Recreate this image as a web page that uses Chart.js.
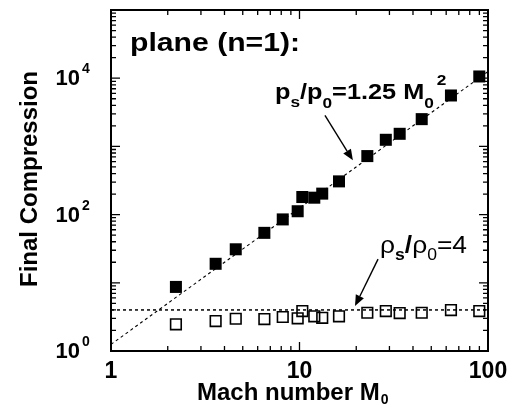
<!DOCTYPE html>
<html>
<head>
<meta charset="utf-8">
<script src="https://cdn.jsdelivr.net/npm/chart.js@4"></script>
<style>
  html, body { margin: 0; padding: 0; background: #fff; }
  canvas { display: block; }
</style>
</head>
<body>
<canvas id="c" width="514" height="412"></canvas>
<script>
// Simulated runs: upstream Mach number and final compression
const machNumbers   = [2.21, 3.59, 4.59, 6.51, 8.15, 9.78, 10.35, 11.98, 13.2, 16.2, 22.9, 28.7, 34.0, 44.5, 63.6, 89.9];
const pressureRatio = [8.7, 19, 31, 54, 85, 112, 181, 177, 203, 307, 721, 1250, 1530, 2510, 5580, 10600];
const densityRatio  = [2.46, 2.75, 2.97, 2.94, 3.15, 3.01, 3.85, 3.22, 3.07, 3.22, 3.64, 3.85, 3.60, 3.64, 3.98, 3.85];

// Reference curves: p_s/p_0 = 1.25 M0^2 and rho_s/rho_0 = 4 (end points)
const fitMach          = [1, 100];
const fitPressure      = [1.25, 12500];
const limitMach        = [1, 100];
const limitDensity     = [4, 4];

// Tick labels
const xTickValues    = [1, 10, 100];
const yTickExponents = [0, 2, 4];

// Annotation arrows in data coordinates: [fromX, fromY, toX, toY]
const pressureArrow = [13.65, 2844, 19.2, 624];
const densityArrow  = [26.1, 22.2, 19.7, 4.56];

const FONT = '"Liberation Sans", Arial, Helvetica, sans-serif';

const toPoints = (xs, ys) => xs.map((v, i) => ({ x: v, y: ys[i] }));

// Draws a sequence of [text, size, weight, dy] segments, stretched by sx
function richText(ctx, x, y, segments, sx, gap) {
  let cx = x;
  for (const [s, size, weight, dy, pre] of segments) {
    cx += (pre || 0);
    ctx.save();
    ctx.font = `${weight} ${size}px ${FONT}`;
    ctx.translate(cx, y + dy);
    ctx.scale(sx, 1);
    ctx.fillText(s, 0, 0);
    cx += ctx.measureText(s).width * sx + (gap || 0);
    ctx.restore();
  }
  return cx;
}

function arrow(ctx, x0, y0, x1, y1) {
  const ang = Math.atan2(y1 - y0, x1 - x0);
  const head = 11, half = 4.5;
  const bx = x1 - head * Math.cos(ang), by = y1 - head * Math.sin(ang);
  ctx.beginPath();
  ctx.moveTo(x0, y0);
  ctx.lineTo(bx, by);
  ctx.lineWidth = 1.4;
  ctx.stroke();
  ctx.beginPath();
  ctx.moveTo(x1, y1);
  ctx.lineTo(bx + half * Math.sin(ang), by - half * Math.cos(ang));
  ctx.lineTo(bx - half * Math.sin(ang), by + half * Math.cos(ang));
  ctx.closePath();
  ctx.fill();
}

const framePlugin = {
  id: 'frame',
  afterDraw(chart) {
    const { ctx, chartArea: a, scales: { x, y } } = chart;
    ctx.save();
    ctx.strokeStyle = '#000';
    ctx.fillStyle = '#000';

    // Log ticks on all four sides, pointing inward
    ctx.lineWidth = 1.3;
    ctx.beginPath();
    for (let d = 0; d <= 2; d++) {
      for (let k = 1; k <= 9; k++) {
        const v = k * Math.pow(10, d);
        if (v > 100) break;
        const px = x.getPixelForValue(v);
        const len = k === 1 ? 9 : 5;
        ctx.moveTo(px, a.bottom); ctx.lineTo(px, a.bottom - len);
        ctx.moveTo(px, a.top);    ctx.lineTo(px, a.top + len);
      }
    }
    for (let d = 0; d <= 5; d++) {
      for (let k = 1; k <= 9; k++) {
        const v = k * Math.pow(10, d);
        if (v > 1e5) break;
        const py = y.getPixelForValue(v);
        const len = k === 1 ? 9 : 5;
        ctx.moveTo(a.left, py);  ctx.lineTo(a.left + len, py);
        ctx.moveTo(a.right, py); ctx.lineTo(a.right - len, py);
      }
    }
    ctx.stroke();

    // Frame
    ctx.lineWidth = 2;
    ctx.strokeRect(a.left, a.top, a.right - a.left, a.bottom - a.top);

    // X tick labels
    ctx.font = `bold 23px ${FONT}`;
    ctx.textAlign = 'center';
    ctx.textBaseline = 'alphabetic';
    for (const v of xTickValues) {
      ctx.fillText(String(v), x.getPixelForValue(v), a.bottom + 27);
    }

    // Y tick labels 10^n
    for (const e of yTickExponents) {
      const py = y.getPixelForValue(Math.pow(10, e));
      ctx.font = `bold 22px ${FONT}`;
      ctx.textAlign = 'right';
      ctx.fillText('10', 80, py + 7);
      ctx.font = `bold 14px ${FONT}`;
      ctx.textAlign = 'left';
      ctx.fillText(String(e), 82, py - 5);
    }

    // Axis titles
    ctx.textAlign = 'left';
    const endX = richText(ctx, 197, 400, [['Mach number M', 24, 'bold', 0]], 1.0);
    richText(ctx, endX + 1, 400, [['0', 14, 'bold', 4]], 1.0);

    ctx.save();
    ctx.translate(37, 179);
    ctx.rotate(-Math.PI / 2);
    ctx.font = `bold 24px ${FONT}`;
    ctx.textAlign = 'center';
    ctx.fillText('Final Compression', 0, 0);
    ctx.restore();

    // In-plot labels
    richText(ctx, 130, 51, [['plane (n=1):', 26, 'bold', 0]], 1.16);

    const fEnd = richText(ctx, 275, 98.5, [
      ['p', 22, 'bold', 0],
      ['s', 15, 'bold', 8.5],
      ['/', 22, 'bold', 0],
      ['p', 22, 'bold', 0],
      ['0', 15, 'bold', 9],
      ['=1.25 M', 22, 'bold', 0],
      ['0', 15, 'bold', 9]
    ], 1.15);
    richText(ctx, fEnd + 3, 98.5, [['2', 15, 'bold', -13.5]], 1.15);

    richText(ctx, 380, 253, [
      ['\u03C1', 24, 'normal', 0],
      ['s', 16, 'bold', 7],
      ['/', 24, 'bold', 0],
      ['\u03C1', 24, 'normal', 0],
      ['0', 16, 'normal', 7],
      ['=4', 24, 'normal', 0]
    ], 1.1);

    // Arrows
    const P = (v) => [x.getPixelForValue(v[0]), y.getPixelForValue(v[1]), x.getPixelForValue(v[2]), y.getPixelForValue(v[3])];
    arrow(ctx, ...P(pressureArrow));
    arrow(ctx, ...P(densityArrow));

    ctx.restore();
  }
};

new Chart(document.getElementById('c'), {
  type: 'scatter',
  data: {
    datasets: [
      {
        label: 'p_s/p_0',
        data: toPoints(machNumbers, pressureRatio),
        pointStyle: 'rect',
        pointRadius: 8.5,
        backgroundColor: '#000',
        borderWidth: 0,
        order: 1
      },
      {
        label: 'rho_s/rho_0',
        data: toPoints(machNumbers, densityRatio),
        pointStyle: 'rect',
        pointRadius: 7.5,
        backgroundColor: 'rgba(255,255,255,0)',
        borderColor: '#000',
        borderWidth: 1.6,
        order: 1
      },
      {
        label: '1.25 M0^2',
        data: toPoints(fitMach, fitPressure),
        showLine: true,
        pointRadius: 0,
        borderColor: '#000',
        borderWidth: 1.1,
        borderDash: [3, 3],
        order: 2
      },
      {
        label: 'rho = 4',
        data: toPoints(limitMach, limitDensity),
        showLine: true,
        pointRadius: 0,
        borderColor: '#000',
        borderWidth: 1.5,
        borderDash: [3, 3],
        order: 2
      }
    ]
  },
  options: {
    responsive: false,
    animation: false,
    devicePixelRatio: 1,
    layout: { padding: { left: 111, right: 26, top: 10, bottom: 61 } },
    scales: {
      x: { type: 'logarithmic', min: 1, max: 100, display: false },
      y: { type: 'logarithmic', min: 1, max: 100000, display: false }
    },
    plugins: { legend: { display: false }, tooltip: { enabled: false } }
  },
  plugins: [framePlugin]
});
</script>
</body>
</html>
